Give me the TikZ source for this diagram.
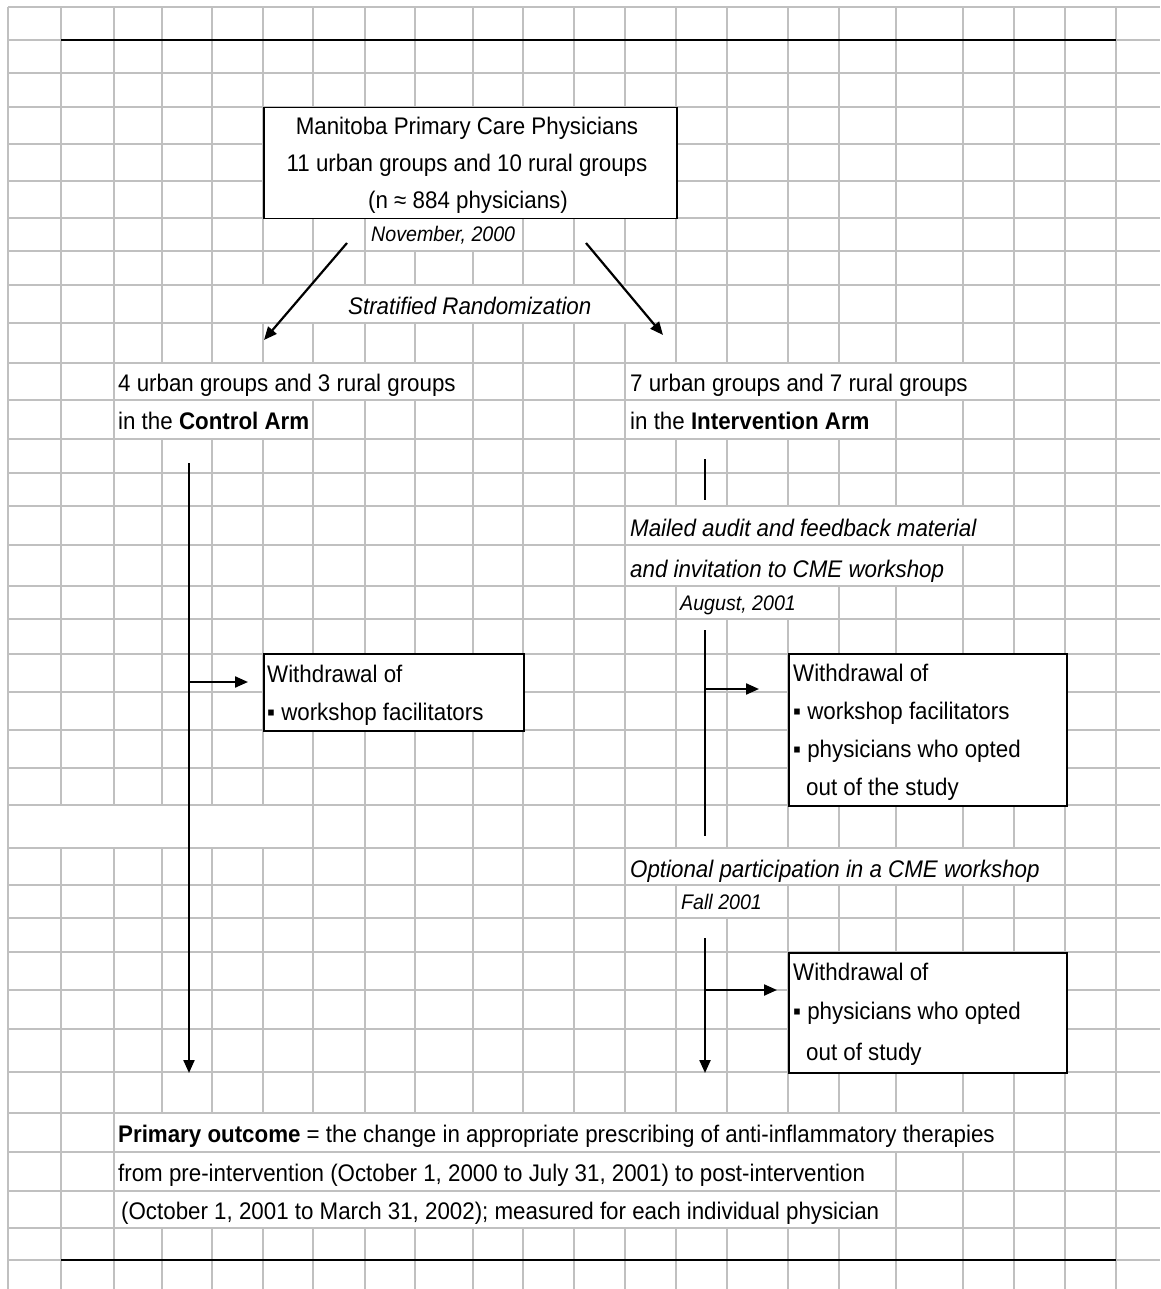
\documentclass[tikz,border=0pt]{standalone}
\usepackage{fontspec}
\setmainfont{Liberation Sans}[FakeStretch=0.93]
\usetikzlibrary{arrows.meta}
\definecolor{gridgray}{HTML}{C0C0C0}
\newcommand\mainsize{\fontsize{24}{28}\selectfont}
\newcommand\datesize{\fontsize{21.1}{25}\selectfont}
\newcommand\gapcell[4]{\fill[white] ({#1+0.8},{#2+0.8}) rectangle ({#3-0.8},{#4-0.8});}
\tikzset{
  gridline/.style={draw=gridgray, line width=1.3pt},
  txt/.style={anchor=base west, inner sep=0pt, font=\mainsize},
  itxt/.style={anchor=base west, inner sep=0pt, font=\mainsize\itshape},
  ctxt/.style={anchor=base, inner sep=0pt, font=\mainsize},
  datetxt/.style={anchor=base west, inner sep=0pt, font=\datesize\itshape},
  frame/.style={draw=black, line width=1.5pt, fill=white, anchor=north west, inner sep=0pt},
  flow/.style={line width=2.2pt, -{Triangle[length=13pt 0 0,width=11pt 0 0]}},
  thinline/.style={line width=1.2pt},
  rulebar/.style={line width=1.5pt}
}
\begin{document}
\begin{tikzpicture}[x=1pt,y=-1pt]
\useasboundingbox (0,0) rectangle (1160,1289);
\fill[white] (0,0) rectangle (1160,1289);
% spreadsheet grid
\foreach \y in {7,40,73,107,144,181,218,251,285,323,363,400,439,473,506,545,586,619,654,692,730,768,805,848,885,918,952,990,1029,1072,1113,1152,1191,1228,1260}
  \draw[gridline] (8,\y) -- (1160,\y);
\foreach \x in {8,61,114,162,212,263,313,365,415,473,523,574,625,676,727,788,839,896,963,1014,1065,1116}
  \draw[gridline] (\x,7) -- (\x,1289);
% cells where text runs over the grid
\gapcell{365}{218}{523}{251}
\gapcell{212}{285}{676}{323}
\gapcell{114}{363}{473}{400}
\gapcell{625}{363}{1014}{400}
\gapcell{114}{400}{313}{439}
\gapcell{625}{400}{896}{439}
\gapcell{625}{506}{1014}{545}
\gapcell{625}{545}{963}{586}
\gapcell{676}{586}{839}{619}
\gapcell{8}{805}{313}{848}
\gapcell{625}{848}{1065}{885}
\gapcell{676}{885}{788}{918}
\gapcell{114}{1113}{1014}{1152}
\gapcell{114}{1152}{896}{1191}
\gapcell{114}{1191}{896}{1228}
% black rules
\coordinate (ruleAl) at (61,40); \coordinate (ruleAr) at (1116,40);
\coordinate (ruleBl) at (61,1260); \coordinate (ruleBr) at (1116,1260);
\draw[rulebar] (ruleAl) -- (ruleAr);
\draw[rulebar] (ruleBl) -- (ruleBr);
% boxes
\node[frame, minimum width=413pt, minimum height=111pt] (popbox) at (263,107) {};
\node[frame, minimum width=260pt, minimum height=77pt] (wbox1) at (263,653) {};
\node[frame, minimum width=278pt, minimum height=152pt] (wbox2) at (788,653) {};
\node[frame, minimum width=278pt, minimum height=120pt] (wbox3) at (788,952) {};
% texts
\node[ctxt] (pop1) at (467,135) {Manitoba Primary Care Physicians};
\node[ctxt] (pop2) at (467,172) {11 urban groups and 10 rural groups};
\node[ctxt] (pop3) at (468,209) {(n ≈ 884 physicians)};
\node[datetxt] (nov) at (371,242) {November, 2000};
\node[itxt] (strat) at (348,314) {Stratified Randomization};
\node[txt] (c1) at (118,391) {4 urban groups and 3 rural groups};
\node[txt] (c2) at (118,429) {in the \textbf{Control Arm}};
\node[txt] (i1) at (630,391) {7 urban groups and 7 rural groups};
\node[txt] (i2) at (630,429) {in the \textbf{Intervention Arm}};
\node[itxt] (mail1) at (630,536) {Mailed audit and feedback material};
\node[itxt] (mail2) at (630,577) {and invitation to CME workshop};
\node[datetxt] (aug) at (680,610) {August, 2001};
\node[txt] (w1a) at (267,682) {Withdrawal of};
\node[txt] (w1b) at (267,720) {▪ workshop facilitators};
\node[txt] (w2a) at (793,681) {Withdrawal of};
\node[txt] (w2b) at (793,719) {▪ workshop facilitators};
\node[txt] (w2c) at (793,757) {▪ physicians who opted};
\node[txt] (w2d) at (806,795) {out of the study};
\node[itxt] (opt) at (630,877) {Optional participation in a CME workshop};
\node[datetxt] (fall) at (681,909) {Fall 2001};
\node[txt] (w3a) at (793,980) {Withdrawal of};
\node[txt] (w3b) at (793,1019) {▪ physicians who opted};
\node[txt] (w3c) at (806,1060) {out of study};
\node[txt] (po1) at (118,1142) {\textbf{Primary outcome} = the change in appropriate prescribing of anti-inflammatory therapies};
\node[txt] (po2) at (118,1181) {from pre-intervention (October 1, 2000 to July 31, 2001) to post-intervention};
\node[txt] (po3) at (121,1219) {(October 1, 2001 to March 31, 2002); measured for each individual physician};
% connectors
\coordinate (dl0) at (347,243); \coordinate (dl1) at (264,340);
\coordinate (dr0) at (586,243); \coordinate (dr1) at (663,335);
\draw[flow] (dl0) -- (dl1);
\draw[flow] (dr0) -- (dr1);
\coordinate (cv0) at (189,463); \coordinate (cv1) at (189,1073);
\coordinate (cb0) at (189,682); \coordinate (cb1) at (248,682);
\draw[flow] (cv0) -- (cv1);
\draw[flow] (cb0) -- (cb1);
\coordinate (iv0) at (705,459); \coordinate (iv1) at (705,500);
\draw[thinline] (iv0) -- (iv1);
\coordinate (iw0) at (705,630); \coordinate (iw1) at (705,836);
\draw[thinline] (iw0) -- (iw1);
\coordinate (ib0) at (705,689); \coordinate (ib1) at (759,689);
\draw[flow] (ib0) -- (ib1);
\coordinate (ix0) at (705,938); \coordinate (ix1) at (705,1073);
\draw[flow] (ix0) -- (ix1);
\coordinate (ic0) at (705,990); \coordinate (ic1) at (777,990);
\draw[flow] (ic0) -- (ic1);
\end{tikzpicture}
\end{document}
